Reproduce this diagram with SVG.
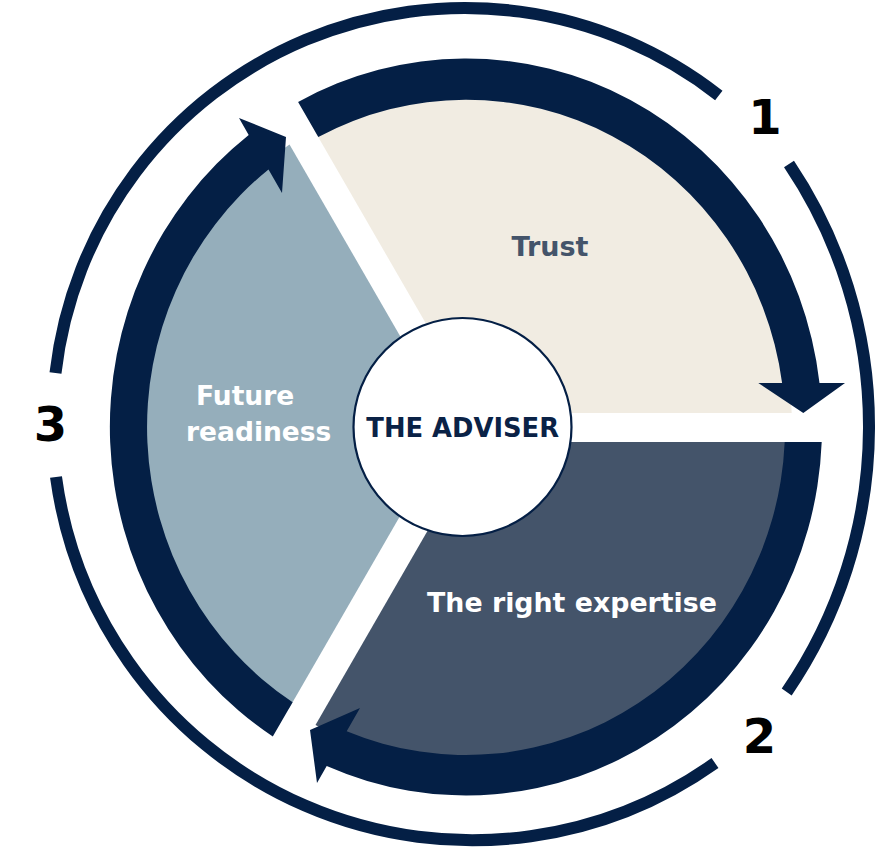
<svg xmlns="http://www.w3.org/2000/svg" width="885" height="855" viewBox="0 0 885 855">
  <style>
    .navy { fill: #041f45; }
    .ring { fill: none; stroke: #041f45; stroke-width: 12; }
    .lbl { font-family: "DejaVu Sans", Verdana, sans-serif; font-weight: bold; }
    .num { font-family: "DejaVu Sans", Verdana, sans-serif; font-weight: bold; font-size: 48px; fill: #000000; text-anchor: middle; }
  </style>
  <rect x="0" y="0" width="885" height="855" fill="#ffffff"/>

  <g id="sector-trust">
    <path d="M477.6,413 L314,129.7 A326,336 0 0 1 791.7,413 Z" fill="#f1ece2"/>
    <text class="lbl" x="550" y="256" font-size="27" fill="#44546a" text-anchor="middle">Trust</text>
  </g>
  <g id="sector-expertise">
    <path d="M478.8,442 L791.7,442 A326,336 0 0 1 315.5,725 Z" fill="#44546a"/>
    <text class="lbl" x="572" y="612" font-size="26.8" fill="#ffffff" text-anchor="middle">The right expertise</text>
  </g>
  <g id="sector-readiness">
    <path d="M452,426 L288.7,709 A326,336 0 0 1 289.5,144.4 Z" fill="#95aebb"/>
    <text class="lbl" font-size="26.5" fill="#ffffff">
      <tspan x="196" y="405">Future</tspan>
      <tspan x="186" y="441">readiness</tspan>
    </text>
  </g>

  <g id="connectors">
    <path id="arrow-1" class="navy" d="M298.1,102 A356,368.5 0 0 1 819.5,383 L845,383 L803.3,413 L758.3,383 L782.1,383 A319,328 0 0 0 318.3,137 Z"/>
    <path id="arrow-2" class="navy" d="M784.7,442 L821.7,442 A356,368.5 0 0 1 326.7,766 L317,783 L310,730 L360,708 L346.7,731.2 A319,328 0 0 0 784.7,442 Z"/>
    <path id="arrow-3" class="navy" d="M292.6,702.2 L272.8,736.5 A356,368.5 0 0 1 248.7,134.9 L239,118 L286,137 L282,193 L268.5,169.4 A319,328 0 0 0 292.6,702.2 Z"/>
    <path id="ring-a" class="ring" d="M789,164 A470,470 0 0 1 786.7,692"/>
    <path id="ring-b" class="ring" d="M715,763 A420,420 0 0 1 56,477"/>
    <path id="ring-c" class="ring" d="M55.5,373 A412,412 0 0 1 718.8,95.5"/>
  </g>

  <g id="adviser">
    <circle cx="462.5" cy="427" r="109" fill="#ffffff" stroke="#041f45" stroke-width="2.2"/>
    <text class="lbl" x="462.7" y="436.5" font-size="25.8" fill="#0a2246" text-anchor="middle">THE ADVISER</text>
  </g>

  <g id="step-numbers">
    <text class="num" x="765" y="134">1</text>
    <text class="num" x="759.5" y="753">2</text>
    <text class="num" x="50.5" y="441">3</text>
  </g>
</svg>
